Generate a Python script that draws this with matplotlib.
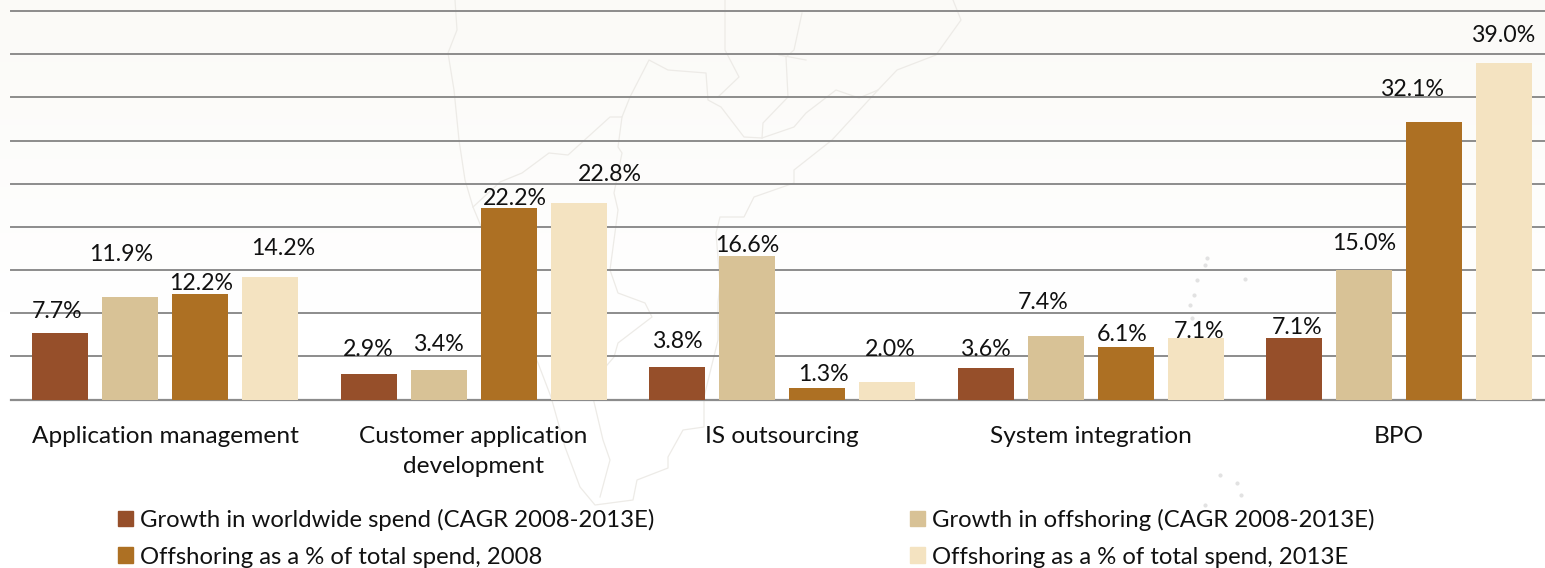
import matplotlib
matplotlib.use('Agg')
import matplotlib.pyplot as plt
from matplotlib.patches import Patch
import numpy as np

# DATA
categories = ['Application management', 'Customer application\ndevelopment', 'IS outsourcing', 'System integration', 'BPO']
worldwide_growth = [7.7, 2.9, 3.8, 3.6, 7.1]
offshoring_growth = [11.9, 3.4, 16.6, 7.4, 15.0]
share_2008 = [12.2, 22.2, 1.3, 6.1, 32.1]
share_2013 = [14.2, 22.8, 2.0, 7.1, 39.0]
series_names = ['Growth in worldwide spend (CAGR 2008-2013E)', 'Growth in offshoring (CAGR 2008-2013E)',
                'Offshoring as a % of total spend, 2008', 'Offshoring as a % of total spend, 2013E']
y_ticks = [0, 5, 10, 15, 20, 25, 30, 35, 40, 45]

# STYLE
colors = ['#964F2A', '#D8C296', '#AD7023', '#F4E3C1']
grid_color = '#8C8C8C'
map_color = '#EDEBE7'
font_name = 'Lato'
label_size = 16.7
tick_size = 17.6
legend_size = 17.2

# data labels do not sit on top of their bars in the original, offsets in pixels per series
label_dx = [[-3, 0, 0, 0, 3], [-9, 0, 0, -12, 0], [1, 6, 6, -3, -22], [13, 31, 3, 4, -1]]
label_dy = [[22, 25, 25, 19, 11], [42, 26, 11, 33, 26], [11, 9, 14, 12, 33], [28, 28, 33, 7, 27]]

# faint map behind the chart, in figure pixels
east_coast = [(953, 0), (961, 20), (936, 55), (897, 70), (878, 90), (832, 140), (794, 170), (794, 183), (754, 197),
              (744, 217), (720, 217), (716, 233), (720, 283), (718, 303), (718, 340), (704, 397), (704, 427), (683, 430),
              (668, 457), (668, 468), (637, 480), (633, 500), (595, 505), (580, 487), (565, 447), (551, 397), (538, 363),
              (473, 207), (465, 180), (459, 140), (454, 90), (448, 53), (457, 30), (455, 0)]
borders = [[(473, 207), (500, 182), (522, 173), (549, 153), (568, 155), (610, 117), (622, 117), (630, 97), (649, 60),
            (668, 70), (706, 73), (708, 100), (721, 107), (744, 137), (762, 138), (794, 127), (806, 113), (836, 90),
            (859, 98), (878, 90)],
           [(622, 117), (618, 147), (622, 153), (614, 193), (618, 210), (610, 270), (618, 293), (645, 303), (652, 317),
            (618, 343), (614, 357), (590, 385), (603, 440), (610, 460), (600, 497)],
           [(725, 0), (725, 50), (739, 77), (718, 97)],
           [(802, 13), (794, 50), (786, 57), (788, 97), (763, 123), (762, 138)],
           [(779, 55), (806, 60)]]
islands = [(1207, 258), (1205, 265), (1197, 280), (1194, 295), (1190, 305), (1192, 318), (1245, 279), (1205, 505), (1220, 475), (1237, 483), (1241, 495)]

plt.rcParams['font.family'] = [font_name, 'DejaVu Sans']

fig = plt.figure(figsize=(15.45, 5.68), dpi=100, facecolor='white')

# BACKGROUND
bg = fig.add_axes([0, 0, 1, 1], zorder=0)
bg.axis('off')
fade = np.linspace(0, 1, 100).reshape(-1, 1)
top_rgb = np.array([251, 250, 247]) / 255
white_rgb = np.array([1.0, 1.0, 1.0])
ramp = np.clip(fade / 0.55, 0, 1)
bg.imshow(top_rgb * (1 - ramp[:, :, None]) + white_rgb * ramp[:, :, None], extent=(0, 1545, 568, 0), aspect='auto')
bg.set_xlim(0, 1545)
bg.set_ylim(568, 0)
bg.plot(*zip(*east_coast), color=map_color, lw=0.9)
for line in borders:
    bg.plot(*zip(*line), color=map_color, lw=0.9)
bg.plot(*zip(*islands), ls='none', marker='o', ms=2, color='#E2E2E2')

# CHART
ax = fig.add_axes([11 / 1545, 1 - 399.5 / 568, 1534 / 1545, 388.5 / 568], zorder=1)
ax.patch.set_alpha(0)

group_pitch = 308.5
step = 70 / group_pitch
width = 56 / group_pitch
x = np.arange(len(categories))

all_series = [worldwide_growth, offshoring_growth, share_2008, share_2013]
for i, values in enumerate(all_series):
    pos = x + (i - 1.5) * step
    ax.bar(pos, values, width, color=colors[i], zorder=3)
    for j, val in enumerate(values):
        ax.annotate(f'{val:.1f}%', (pos[j], val), xytext=(label_dx[i][j], label_dy[i][j]),
                    textcoords='offset pixels', ha='center', va='center',
                    fontsize=label_size, color='#111111', zorder=4)

ax.set_xlim(-0.4992, 4.473)
ax.set_ylim(0, 45)
ax.set_yticks(y_ticks)
ax.set_yticklabels([])
ax.tick_params(axis='both', length=0)
ax.grid(axis='y', color=grid_color, lw=1.4, zorder=1)
for gridline in ax.get_ygridlines():
    gridline.set_clip_on(False)
ax.set_axisbelow(True)
ax.set_xticks(x)
ax.set_xticklabels(categories, fontsize=tick_size, color='#111111', linespacing=1.55)
ax.tick_params(axis='x', pad=19)
for side in ['left', 'right', 'top']:
    ax.spines[side].set_visible(False)
ax.spines['bottom'].set_color(grid_color)
ax.spines['bottom'].set_linewidth(1.6)

# LEGEND, filled column by column
order = [0, 2, 1, 3]
handles = [Patch(color=colors[k], label=series_names[k]) for k in order]
ax.legend(handles=handles, ncol=2, frameon=False, fontsize=legend_size,
          loc='lower left', bbox_to_anchor=(107 / 1534, -168 / 388.5), borderaxespad=0, borderpad=0,
          handlelength=0.63, handleheight=0.63, handletextpad=0.3, labelspacing=0.66, columnspacing=10.7,
          labelcolor='#111111')

fig.savefig('out.png', dpi=100)
